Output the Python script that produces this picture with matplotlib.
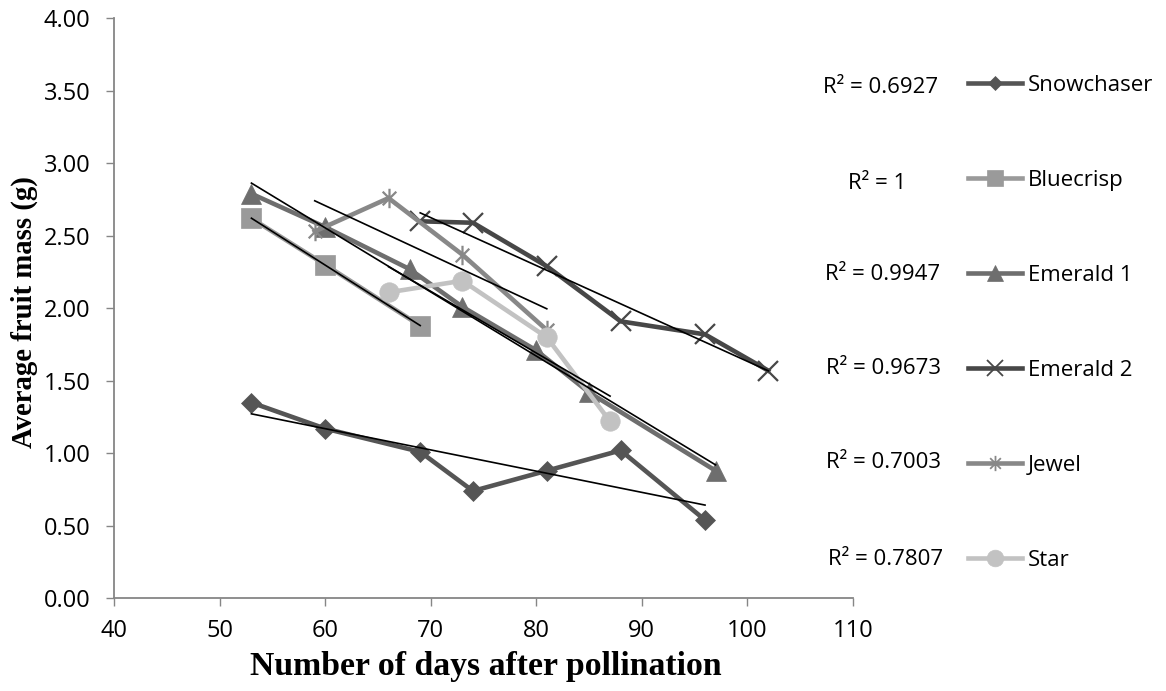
import numpy as np
import matplotlib
matplotlib.use('Agg')
import matplotlib.pyplot as plt
from matplotlib.lines import Line2D
from matplotlib.path import Path

# values
names = ['Snowchaser', 'Bluecrisp', 'Emerald 1', 'Emerald 2', 'Jewel', 'Star']
snow_x = [53, 60, 69, 74, 81, 88, 96]
snow_y = [1.35, 1.17, 1.01, 0.74, 0.88, 1.02, 0.54]
blue_x = [53, 60, 69]
blue_y = [2.62, 2.30, 1.88]
em1_x = [53, 60, 68, 73, 80, 85, 97]
em1_y = [2.79, 2.56, 2.27, 2.01, 1.71, 1.42, 0.88]
em2_x = [69, 74, 81, 88, 96, 102]
em2_y = [2.60, 2.59, 2.29, 1.91, 1.82, 1.57]
jewel_x = [59, 66, 73, 81]
jewel_y = [2.53, 2.76, 2.37, 1.85]
star_x = [66, 73, 81, 87]
star_y = [2.11, 2.19, 1.80, 1.22]
r2_labels = ['R² = 0.6927', 'R² = 1', 'R² = 0.9947', 'R² = 0.9673', 'R² = 0.7003', 'R² = 0.7807']

# excel-like asterisk: x plus a vertical bar
asterisk = Path([(0, -1), (0, 1), (-0.7, -0.7), (0.7, 0.7), (-0.7, 0.7), (0.7, -0.7)],
                [Path.MOVETO, Path.LINETO, Path.MOVETO, Path.LINETO, Path.MOVETO, Path.LINETO])

series = [
    (snow_x, snow_y, '#555555', 'D', 10.5, 7),
    (blue_x, blue_y, '#9a9a9a', 's', 14, 11),
    (em1_x, em1_y, '#6e6e6e', '^', 14, 11),
    (em2_x, em2_y, '#474747', 'x', 14, 11),
    (jewel_x, jewel_y, '#888888', asterisk, 14, 11),
    (star_x, star_y, '#c2c2c2', 'o', 14, 12),
]

W, H = 1166, 691
fig = plt.figure(figsize=(W / 100, H / 100), dpi=100)
ax = fig.add_axes([114.3 / W, 1 - 598.3 / H, (852.7 - 114.3) / W, (598.3 - 18.3) / H])

handles = []
for (xs, ys, col, mk, ms, lms) in series:
    filled = mk not in ('x',) and mk is not asterisk
    ax.plot(xs, ys, color=col, lw=3.3, marker=mk, ms=ms, mfc=col, mec=col,
            mew=1.6 if not filled else 0.5, zorder=3, solid_joinstyle='miter')
    handles.append(Line2D([], [], color=col, lw=3.3, marker=mk, ms=lms, mfc=col, mec=col,
                          mew=1.3 if not filled else 0.5))

# linear trendlines
for (xs, ys, col, mk, ms, lms) in series:
    k, b = np.polyfit(xs, ys, 1)
    xx = np.array([min(xs), max(xs)])
    ax.plot(xx, k * xx + b, color='black', lw=1.2, zorder=5)

ax.set_xlim(40, 110)
ax.set_ylim(0, 4)
ax.set_xticks(np.arange(40, 111, 10))
ax.set_yticks(np.arange(0, 4.01, 0.5))
ax.set_yticklabels([f'{v:.2f}' for v in np.arange(0, 4.01, 0.5)])
for s in ['top', 'right']:
    ax.spines[s].set_visible(False)
for s in ['left', 'bottom']:
    ax.spines[s].set_color('#868686')
    ax.spines[s].set_linewidth(1.3)
ax.tick_params(direction='out', length=6, width=1, color='#868686',
               labelsize=17, labelcolor='black')
ax.tick_params(axis='y', pad=11)
ax.tick_params(axis='x', pad=9)
for lab in ax.get_xticklabels() + ax.get_yticklabels():
    lab.set_family('Open Sans')

fig.text(24 / W, 1 - 312 / H, 'Average fruit mass (g)', rotation=90, ha='center', va='center',
         family='Liberation Serif', weight='bold', fontsize=20.7)
fig.text(486 / W, 1 - 667 / H, 'Number of days after pollination', ha='center', va='center',
         family='Liberation Serif', weight='bold', fontsize=24.3)

r2_x = [880.5, 876.7, 882.7, 883, 883, 886]
r2_y = [87.3, 183.3, 275, 368.3, 462.7, 559.3]
for t, px, py in zip(r2_labels, r2_x, r2_y):
    fig.text(px / W, 1 - py / H, t, ha='center', va='center', family='Open Sans', fontsize=16)

ax.legend(handles, names, loc='upper left', bbox_to_anchor=(968 / W, 1 - 74.7 / H),
          bbox_transform=fig.transFigure, frameon=False, numpoints=1,
          handlelength=2.43, handletextpad=0.27, labelspacing=3.33, borderpad=0,
          borderaxespad=0, prop={'family': 'Open Sans', 'size': 16})

fig.savefig('out.png', dpi=100)
